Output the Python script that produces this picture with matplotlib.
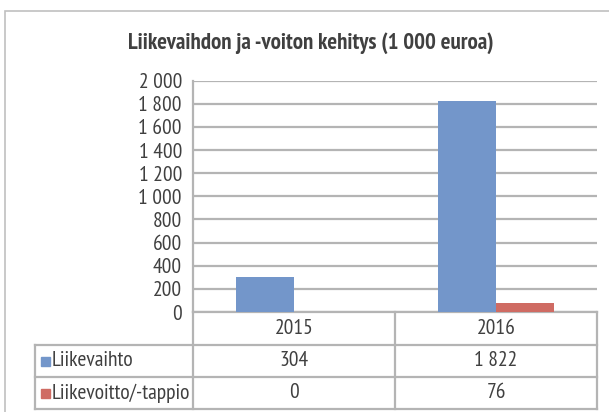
import matplotlib
matplotlib.use("Agg")
import matplotlib.pyplot as plt
from matplotlib.patches import Rectangle
from matplotlib.lines import Line2D

years = ["2015", "2016"]
series_names = ["Liikevaihto", "Liikevoitto/-tappio"]
liikevaihto = [304, 1822]
liikevoitto = [0, 76]
table_labels = [["304", "1 822"], ["0", "76"]]
yticks = [0, 200, 400, 600, 800, 1000, 1200, 1400, 1600, 1800, 2000]
ytick_labels = ["0", "200", "400", "600", "800", "1 000", "1 200", "1 400", "1 600", "1 800", "2 000"]
title = "Liikevaihdon ja -voiton kehitys (1 000 euroa)"

colors = ["#7396CA", "#CF6B63"]
grid_c = "#B4B4B4"
text_c = "#404040"
FONT = ["PT Sans Narrow", "Liberation Sans", "DejaVu Sans"]
plt.rcParams["font.family"] = FONT
FS = 15.5

W, H = 609, 412
fig = plt.figure(figsize=(W / 100, H / 100), dpi=100)

def fx(px):
    return px / W

def fy(py):
    return 1 - py / H

# outer chart frame (cut at right/bottom)
fig.patches.append(Rectangle((fx(5), fy(440)), fx(700), fy(11) - fy(440),
                             transform=fig.transFigure, fill=False,
                             edgecolor="#C0C0C0", lw=1.2))

L, R, T, B = 193, 597, 80.7, 312
ax = fig.add_axes([fx(L), fy(B), fx(R) - fx(L), fy(T) - fy(B)])

x = range(len(years))
bw = 0.287
ax.bar([i - bw / 2 for i in x], liikevaihto, width=bw, color=colors[0], zorder=3)
ax.bar([i + bw / 2 for i in x], liikevoitto, width=bw, color=colors[1], zorder=3)

ax.set_xlim(-0.5, len(years) - 0.5)
ax.set_ylim(0, 2000)
ax.set_yticks(yticks)
ax.set_yticklabels(ytick_labels, fontsize=FS, color=text_c)
ax.set_xticks([])
ax.tick_params(axis="y", length=0, pad=8)
ax.yaxis.grid(True, color=grid_c, lw=1.6, zorder=0)
for s in ["top", "right"]:
    ax.spines[s].set_visible(False)
ax.spines["left"].set_color(grid_c)
ax.spines["left"].set_linewidth(1.6)
ax.spines["bottom"].set_color(grid_c)
ax.spines["bottom"].set_linewidth(1.6)

fig.text(fx(311), fy(43), title, ha="center", va="center", fontsize=16.5,
         fontweight="bold", color=text_c)

# data table below the plot
row_y = [312, 345, 377, 409]
tl = dict(color=grid_c, lw=1.6, transform=fig.transFigure)
col_x = [L + (R - L) * i / len(years) for i in range(len(years) + 1)]
for cx in col_x:
    fig.add_artist(Line2D([fx(cx)] * 2, [fy(312), fy(409)], **tl))
fig.add_artist(Line2D([fx(35)] * 2, [fy(345), fy(409)], **tl))
for ry in row_y[1:]:
    fig.add_artist(Line2D([fx(35), fx(R)], [fy(ry)] * 2, **tl))

for i, yr in enumerate(years):
    cx = (col_x[i] + col_x[i + 1]) / 2
    fig.text(fx(cx), fy(329), yr, ha="center", va="center", fontsize=FS, color=text_c)
    for r in range(2):
        cy = (row_y[r + 1] + row_y[r + 2]) / 2
        fig.text(fx(cx), fy(cy), table_labels[r][i], ha="center", va="center",
                 fontsize=FS, color=text_c)

for r, name in enumerate(series_names):
    cy = (row_y[r + 1] + row_y[r + 2]) / 2
    fig.patches.append(Rectangle((fx(41), fy(cy + 4.5)), fx(8.5), fy(cy - 4.5) - fy(cy + 4.5),
                                 transform=fig.transFigure, color=colors[r]))
    fig.text(fx(52), fy(cy), name, ha="left", va="center", fontsize=FS, color=text_c)

fig.savefig("out.png", dpi=100)
